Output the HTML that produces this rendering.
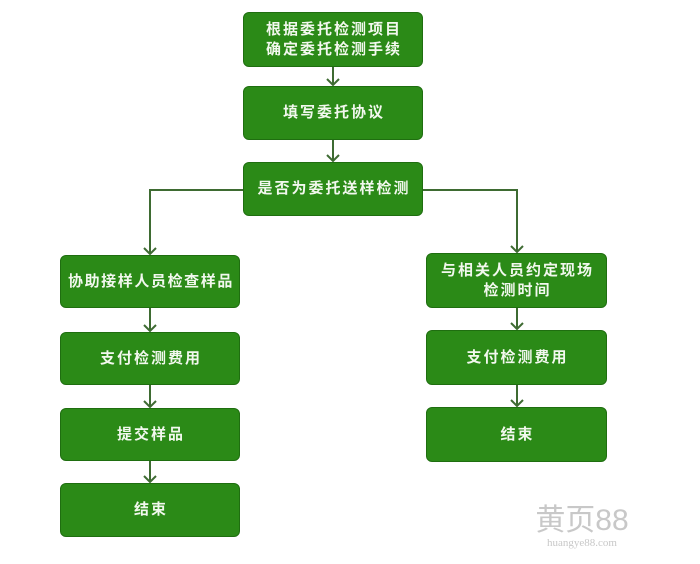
<!DOCTYPE html>
<html><head><meta charset="utf-8"><style>
body{margin:0;width:700px;height:564px;background:#fff;position:relative;overflow:hidden;font-family:"Liberation Sans","Noto Sans CJK SC",sans-serif}
.b{position:absolute;background:#2b8a17;border:1px solid #1f6e10;border-radius:6px;color:#f2f8ee;font-weight:bold;font-size:15px;letter-spacing:2px;display:flex;align-items:center;justify-content:center;text-align:center;line-height:20px;box-sizing:border-box;padding-left:2px}
svg{position:absolute;left:0;top:0}
</style></head><body>
<svg width="700" height="564">
<g stroke="#3e6b32" stroke-width="2" fill="none">
<line x1="333" y1="66" x2="333" y2="85"/><polyline points="327,79 333,85 339,79"/>
<line x1="333" y1="140" x2="333" y2="161"/><polyline points="327,155 333,161 339,155"/>
<polyline points="243,190 150,190 150,254"/><polyline points="144,248 150,254 156,248"/>
<polyline points="423,190 517,190 517,252"/><polyline points="511,246 517,252 523,246"/>
<line x1="150" y1="308" x2="150" y2="331"/><polyline points="144,325 150,331 156,325"/>
<line x1="150" y1="385" x2="150" y2="407"/><polyline points="144,401 150,407 156,401"/>
<line x1="150" y1="461" x2="150" y2="482"/><polyline points="144,476 150,482 156,476"/>
<line x1="517" y1="308" x2="517" y2="329"/><polyline points="511,323 517,329 523,323"/>
<line x1="517" y1="385" x2="517" y2="406"/><polyline points="511,400 517,406 523,400"/>
</g>
<text x="582" y="530" font-size="30" fill="#c8c8c8" text-anchor="middle" font-family="Liberation Sans,Noto Sans CJK SC,sans-serif">黄页88</text>
<text x="582" y="546" font-size="11" fill="#c8c8c8" text-anchor="middle" font-family="Liberation Serif,serif">huangye88.com</text>
</svg>
<div class="b" style="left:243px;top:12px;width:180px;height:55px">根据委托检测项目<br>确定委托检测手续</div>
<div class="b" style="left:243px;top:86px;width:180px;height:54px">填写委托协议</div>
<div class="b" style="left:243px;top:162px;width:180px;height:54px">是否为委托送样检测</div>
<div class="b" style="left:60px;top:255px;width:180px;height:53px;letter-spacing:1.6px">协助接样人员检查样品</div>
<div class="b" style="left:60px;top:332px;width:180px;height:53px">支付检测费用</div>
<div class="b" style="left:60px;top:408px;width:180px;height:53px">提交样品</div>
<div class="b" style="left:60px;top:483px;width:180px;height:54px">结束</div>
<div class="b" style="left:426px;top:253px;width:181px;height:55px">与相关人员约定现场<br>检测时间</div>
<div class="b" style="left:426px;top:330px;width:181px;height:55px">支付检测费用</div>
<div class="b" style="left:426px;top:407px;width:181px;height:55px">结束</div>
</body></html>
